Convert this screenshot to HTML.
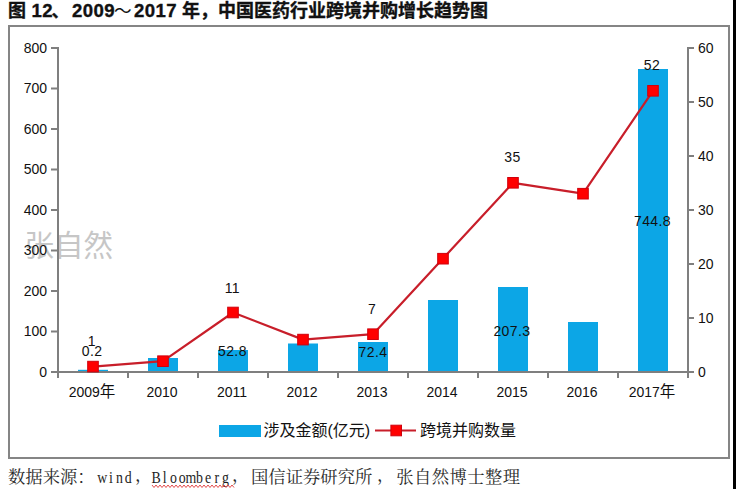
<!DOCTYPE html>
<html><head><meta charset="utf-8">
<style>
html,body{margin:0;padding:0;background:#fff;}
body{width:736px;height:489px;overflow:hidden;position:relative;}
.stripe{position:absolute;left:733px;top:0;width:3px;height:489px;background:#000;}
svg{position:absolute;left:0;top:0;}
</style></head><body>
<svg class="t" width="736" height="30" style="position:absolute;left:0;top:0">
 <text y="16.5" font-family="Liberation Sans,Noto Sans CJK SC,sans-serif" font-weight="bold" fill="#111" stroke="#111" stroke-width="0.35"><tspan x="8" font-size="18">图</tspan> <tspan x="31.5" font-size="18.6" letter-spacing="0.4">12</tspan><tspan x="51.5" font-size="17.6">、</tspan><tspan x="72" font-size="18.6" letter-spacing="0.4">2009</tspan><tspan x="114" font-size="17.6" font-weight="normal" stroke-width="0">～</tspan><tspan x="134" font-size="18.6" letter-spacing="0.4">2017</tspan> <tspan x="182" font-size="18">年，中国医药行业跨境并购增长趋势图</tspan></text>
</svg>
<svg width="736" height="489" viewBox="0 0 736 489">
 <rect x="9" y="26" width="720" height="432" fill="none" stroke="#858585" stroke-width="2"/>
 <!-- watermark -->
 <text x="24.5" y="256" font-family="Liberation Sans,Noto Sans CJK SC,sans-serif" font-weight="400" font-size="29.5" fill="#c6c6c6">张自然</text>
 <!-- bars -->
 <g fill="#0CA6E6">
  <rect x="78" y="369.8" width="30" height="2.2"/>
  <rect x="148" y="358" width="30" height="14"/>
  <rect x="218" y="350" width="30" height="22"/>
  <rect x="288" y="343.5" width="30" height="28.5"/>
  <rect x="358" y="342" width="30" height="30"/>
  <rect x="428" y="300" width="30" height="72"/>
  <rect x="498" y="287" width="30" height="85"/>
  <rect x="568" y="322" width="30" height="50"/>
  <rect x="638" y="69" width="30" height="303"/>
 </g>
 <!-- axes -->
 <g stroke="#7f7f7f" stroke-width="2" fill="none">
  <line x1="58" y1="47" x2="58" y2="378"/>
  <line x1="688" y1="47" x2="688" y2="378"/>
  <line x1="51" y1="372" x2="688" y2="372"/>
  <line x1="51" y1="48" x2="58" y2="48"/>
  <line x1="51" y1="88.5" x2="58" y2="88.5"/>
  <line x1="51" y1="129" x2="58" y2="129"/>
  <line x1="51" y1="169.5" x2="58" y2="169.5"/>
  <line x1="51" y1="210" x2="58" y2="210"/>
  <line x1="51" y1="250.5" x2="58" y2="250.5"/>
  <line x1="51" y1="291" x2="58" y2="291"/>
  <line x1="51" y1="331.5" x2="58" y2="331.5"/>
  <line x1="688" y1="48" x2="694" y2="48"/>
  <line x1="688" y1="102" x2="694" y2="102"/>
  <line x1="688" y1="156" x2="694" y2="156"/>
  <line x1="688" y1="210" x2="694" y2="210"/>
  <line x1="688" y1="264" x2="694" y2="264"/>
  <line x1="688" y1="318" x2="694" y2="318"/>
  <line x1="688" y1="372" x2="694" y2="372"/>
  <line x1="128" y1="372" x2="128" y2="378"/>
  <line x1="198" y1="372" x2="198" y2="378"/>
  <line x1="268" y1="372" x2="268" y2="378"/>
  <line x1="338" y1="372" x2="338" y2="378"/>
  <line x1="408" y1="372" x2="408" y2="378"/>
  <line x1="478" y1="372" x2="478" y2="378"/>
  <line x1="548" y1="372" x2="548" y2="378"/>
  <line x1="618" y1="372" x2="618" y2="378"/>
 </g>
 <!-- line -->
 <polyline fill="none" stroke="#C81E2A" stroke-width="2.2" stroke-linejoin="round"
  points="93,366.6 163,361.2 233,312.5 303,339.6 373,334.2 443,258.5 513,182.8 583,193.6 653,90.8"/>
 <g fill="#FF0000" stroke="#D0000C" stroke-width="1">
  <rect x="87.7" y="361.3" width="10.6" height="10.6"/>
  <rect x="157.7" y="355.9" width="10.6" height="10.6"/>
  <rect x="227.7" y="307.2" width="10.6" height="10.6"/>
  <rect x="297.7" y="334.3" width="10.6" height="10.6"/>
  <rect x="367.7" y="328.9" width="10.6" height="10.6"/>
  <rect x="437.7" y="253.4" width="10.6" height="10.6"/>
  <rect x="507.7" y="177.5" width="10.6" height="10.6"/>
  <rect x="577.7" y="188.4" width="10.6" height="10.6"/>
  <rect x="647.7" y="85.5" width="10.6" height="10.6"/>
 </g>
 <!-- axis labels -->
 <g font-family="Liberation Sans,Noto Sans CJK SC,sans-serif" font-size="14" fill="#111" text-anchor="end">
  <text x="47" y="52.8">800</text>
  <text x="47" y="93.3">700</text>
  <text x="47" y="133.8">600</text>
  <text x="47" y="174.3">500</text>
  <text x="47" y="214.8">400</text>
  <text x="47" y="255.3">300</text>
  <text x="47" y="295.8">200</text>
  <text x="47" y="336.3">100</text>
  <text x="47" y="376.8">0</text>
 </g>
 <g font-family="Liberation Sans,Noto Sans CJK SC,sans-serif" font-size="14" fill="#111" text-anchor="start">
  <text x="698" y="52.8">60</text>
  <text x="698" y="106.8">50</text>
  <text x="698" y="160.8">40</text>
  <text x="698" y="214.8">30</text>
  <text x="698" y="268.8">20</text>
  <text x="698" y="322.8">10</text>
  <text x="698" y="376.8">0</text>
 </g>
 <g font-family="Liberation Sans,Noto Sans CJK SC,sans-serif" font-size="14" fill="#111" text-anchor="middle">
  <text x="92" y="397">2009<tspan font-size="15.5">年</tspan></text>
  <text x="162" y="397">2010</text>
  <text x="232" y="397">2011</text>
  <text x="302" y="397">2012</text>
  <text x="372" y="397">2013</text>
  <text x="442" y="397">2014</text>
  <text x="512" y="397">2015</text>
  <text x="582" y="397">2016</text>
  <text x="652" y="397">2017<tspan font-size="15.5">年</tspan></text>
 </g>
 <!-- data labels -->
 <g font-family="Liberation Sans,Noto Sans CJK SC,sans-serif" font-size="14" letter-spacing="0.4" fill="#111" text-anchor="middle">
  <text x="91.9" y="345.6">1</text>
  <text x="92.2" y="355.9">0.2</text>
  <text x="232.4" y="292.6">11</text>
  <text x="232.4" y="356.1">52.8</text>
  <text x="372.2" y="313.5">7</text>
  <text x="373" y="356.7">72.4</text>
  <text x="512.4" y="162">35</text>
  <text x="511.9" y="335.6">207.3</text>
  <text x="652" y="69.7">52</text>
  <text x="652.5" y="225.9">744.8</text>
 </g>
 <!-- legend -->
 <rect x="219" y="425" width="42" height="12" fill="#0CA6E6"/>
 <line x1="375" y1="430.5" x2="416" y2="430.5" stroke="#C81E2A" stroke-width="2.2"/>
 <rect x="390.9" y="425.2" width="10.6" height="10.6" fill="#FF0000" stroke="#D0000C" stroke-width="1"/>
 <g font-family="Liberation Sans,Noto Sans CJK SC,sans-serif" font-size="16" fill="#111">
  <text x="263.5" y="436">涉及金额(亿元)</text>
  <text x="420" y="436">跨境并购数量</text>
 </g>
</svg>
<svg class="src" width="736" height="489" style="position:absolute;left:0;top:0">
 <g font-family="Noto Serif CJK SC,serif" font-size="17.33" fill="#2a2a2a">
  <text x="8" y="483.3">数据来源：</text>
  <text font-family="Liberation Serif,serif" fill="#1e1e1e" text-anchor="middle" transform="scale(0.8 1)" x="127.79 138.63 149.47 160.31" y="482.7">wind</text>
  <text x="135" y="481.3">，</text>
  <text font-family="Liberation Serif,serif" fill="#1e1e1e" text-anchor="middle" transform="scale(0.8 1)" x="195.17 206.01 216.84 227.68 238.52 249.36 260.19 271.03 281.87" y="482.7">Bloomberg</text>
  <text x="232" y="481.3">，</text>
  <text x="251" y="483.3">国信证券研究所</text>
  <text x="377" y="481.3">，</text>
  <text x="396.2" y="483.3" letter-spacing="0.44">张自然博士整理</text>
 </g>
 <polyline fill="none" stroke="#e03a3a" stroke-width="0.9" points="152,485 154,487.5 156,485 158,487.5 160,485 162,487.5 164,485 166,487.5 168,485 170,487.5 172,485 174,487.5 176,485 178,487.5 180,485 182,487.5 184,485 186,487.5 188,485 190,487.5 192,485 194,487.5 196,485 198,487.5 200,485 202,487.5 204,485 206,487.5 208,485 210,487.5 212,485 214,487.5 216,485 218,487.5 220,485 222,487.5 224,485 226,487.5 228,485 230,487.5 232,485 234,487.5"/>
</svg>
<div class="stripe"></div>
</body></html>
